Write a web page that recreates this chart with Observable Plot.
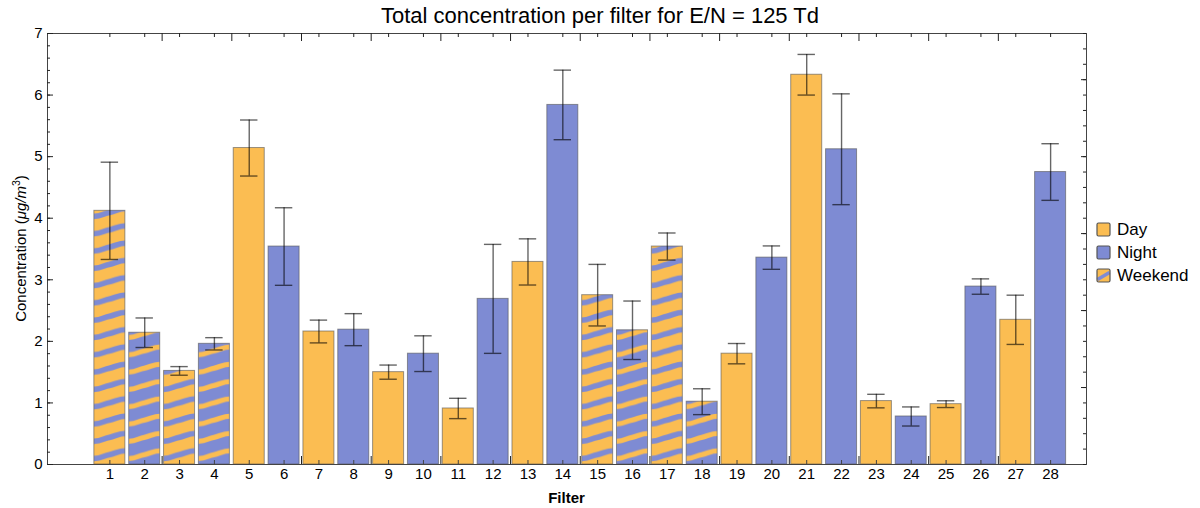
<!DOCTYPE html>
<html><head><meta charset="utf-8">
<script src="https://cdn.jsdelivr.net/npm/d3@7"></script>
<script src="https://cdn.jsdelivr.net/npm/@observablehq/plot@0.6"></script>
<style>
html,body{margin:0;padding:0;background:#fff;}
#chart{width:1200px;height:508px;}
svg{font-family:"Liberation Sans",Arial,sans-serif;}
</style></head><body><div id="chart"></div>
<script>
// ---- data ----
const filters = [1,2,3,4,5,6,7,8,9,10,11,12,13,14,15,16,17,18,19,20,21,22,23,24,25,26,27,28];
const values  = [4.12,2.14,1.52,1.96,5.14,3.54,2.16,2.19,1.50,1.80,0.91,2.69,3.29,5.84,2.75,2.18,3.54,1.02,1.80,3.36,6.33,5.12,1.03,0.78,0.98,2.89,2.35,4.75];
const errors  = [0.79,0.24,0.07,0.10,0.455,0.63,0.185,0.26,0.115,0.29,0.165,0.885,0.375,0.565,0.50,0.475,0.22,0.21,0.165,0.19,0.33,0.90,0.11,0.155,0.055,0.125,0.40,0.46];
// D = day, N = night, WD = weekend (day-coloured base), WN = weekend (night-coloured base)
const kinds   = ["WD","WN","WD","WN","D","N","D","N","D","N","D","N","D","N","WD","WN","WD","WN","D","N","D","N","D","N","D","N","D","N"];
const yTickLabels = [0,1,2,3,4,5,6,7];
const legendLabels = ["Day","Night","Weekend"];
const titleText = "Total concentration per filter for E/N = 125 Td";

// ---- layout / style ----
const W = 1200, H = 508, mL = 47, mR = 114, mT = 33, mB = 44;
const fw = W - mL - mR, fh = H - mT - mB;
const half = 0.445, cap = 0.25;
const ORANGE = "#FBBD52", BLUE = "#7E8BD3";
const FONT = '"Liberation Sans", Arial, sans-serif';

const data = filters.map((f, i) => ({f, v: values[i], e: errors[i], k: kinds[i]}));
const bounds = d3.range(2.5, 27, 2);
const yMinor = d3.range(0, 7.001, 0.2);
const yRight = d3.range(0, 7.001, 0.25);
const yRightMajor = [1.25, 2.5, 3.75, 5, 6.25];

const barOpts = fill => ({
  x1: d => d.f - half, x2: d => d.f + half, y1: d => 0, y2: d => d.v,
  fill, stroke: "#555", strokeOpacity: 0.6, strokeWidth: 1
});
const errStyle = {stroke: "#000", strokeOpacity: 0.6, strokeWidth: 1.4};

const plot = Plot.plot({
  width: W, height: H,
  marginLeft: mL, marginRight: mR, marginTop: mT, marginBottom: mB,
  x: {type: "linear", domain: [-0.79, 29.03], axis: null},
  y: {domain: [0, 7], axis: null},
  style: {fontFamily: FONT, background: "white", color: "#000"},
  marks: [
    Plot.rect(data.filter(d => d.k === "D"), barOpts(ORANGE)),
    Plot.rect(data.filter(d => d.k === "N"), barOpts(BLUE)),
    Plot.rect(data.filter(d => d.k === "WD"), barOpts("url(#wkD)")),
    Plot.rect(data.filter(d => d.k === "WN"), barOpts("url(#wkN)")),
    // error bars
    Plot.ruleX(data, {x: "f", y1: d => d.v - d.e, y2: d => d.v + d.e, ...errStyle}),
    Plot.ruleY(data, {y: d => d.v + d.e, x1: d => d.f - cap, x2: d => d.f + cap, ...errStyle}),
    Plot.ruleY(data, {y: d => d.v - d.e, x1: d => d.f - cap, x2: d => d.f + cap, ...errStyle}),
    // frame
    Plot.frame({stroke: "#444", strokeWidth: 1}),
    // bottom ticks (inward)
    Plot.tickX(filters, {x: d => d, insetTop: fh - 4, stroke: "#444"}),
    Plot.tickX(bounds.filter(b => b !== 4.5), {x: d => d, insetTop: fh - 8, stroke: "#222"}),
    // top ticks
    Plot.tickX(filters, {x: d => d, insetBottom: fh - 4, stroke: "#222"}),
    Plot.tickX(bounds, {x: d => d, insetBottom: fh - 8, stroke: "#222"}),
    // left ticks
    Plot.tickY(yMinor, {y: d => d, insetRight: fw - 3, stroke: "#222"}),
    Plot.tickY(yTickLabels, {y: d => d, insetRight: fw - 6, stroke: "#222"}),
    // right ticks
    Plot.tickY(yRight, {y: d => d, insetLeft: fw - 3, stroke: "#222"}),
    Plot.tickY(yRightMajor, {y: d => d, insetLeft: fw - 5, stroke: "#222"}),
    // tick labels
    Plot.text(filters, {x: d => d, y: d => 0, dy: 10, text: d => String(d), fontSize: 15, fill: "#000", lineAnchor: "middle"}),
    Plot.text(yTickLabels, {y: d => d, frameAnchor: "left", dx: -5, text: d => String(d), textAnchor: "end", fontSize: 15, fill: "#000", lineAnchor: "middle"})
  ]
});
document.getElementById("chart").appendChild(plot);

// ---- patterns for weekend bars ----
const svg = d3.select(plot);
const xs = plot.scale("x");
const step = xs.apply(2) - xs.apply(1);
const x0 = xs.apply(1 - half);
const bw = xs.apply(1 + half) - x0;
const per = 17.3;
const defs = svg.insert("defs", ":first-child");
function pattern(id, bg, fg, sw) {
  const p = defs.append("pattern").attr("id", id)
    .attr("patternUnits", "userSpaceOnUse")
    .attr("x", x0).attr("y", mT + fh).attr("width", step).attr("height", per);
  p.append("rect").attr("width", step).attr("height", per).attr("fill", bg);
  const d = `M-2,12 C${bw * 0.25},12 ${bw * 0.3},9 ${bw * 0.5},8 S${bw * 0.75},4 ${bw + 2},4`;
  for (const dy of [-per, 0, per]) {
    p.append("path").attr("d", d).attr("transform", `translate(0,${dy})`)
      .attr("fill", "none").attr("stroke", fg).attr("stroke-width", sw);
  }
}
pattern("wkD", ORANGE, BLUE, 5.5);
pattern("wkN", BLUE, ORANGE, 5);

// ---- title, axis labels ----
svg.append("text").attr("x", 600).attr("y", 23).attr("text-anchor", "middle")
  .attr("font-size", 22).attr("fill", "#000").text(titleText);
svg.append("text").attr("x", mL + fw / 2).attr("y", 503).attr("text-anchor", "middle")
  .attr("font-size", 15).attr("font-weight", "bold").attr("fill", "#000").text("Filter");
const yl = svg.append("text").attr("transform", `translate(26,${mT + fh / 2}) rotate(-90)`)
  .attr("text-anchor", "middle").attr("font-size", 15).attr("fill", "#000");
yl.append("tspan").text("Concentration (");
yl.append("tspan").attr("font-style", "italic").text("μg/m");
yl.append("tspan").attr("font-size", 10.5).attr("dy", -6).text("3");
yl.append("tspan").attr("dy", 6).text(")");

// ---- legend ----
const leg = svg.append("g").attr("transform", "translate(1097,223)");
legendLabels.forEach((lab, i) => {
  const g = leg.append("g").attr("transform", `translate(0,${i * 23})`);
  g.append("rect").attr("width", 13).attr("height", 13).attr("rx", 1.5)
    .attr("fill", i === 1 ? BLUE : ORANGE);
  if (i === 2) {
    g.append("path").attr("d", "M0.5,10.5 L12.5,3.5").attr("stroke", BLUE).attr("stroke-width", 3.5);
  }
  g.append("rect").attr("width", 13).attr("height", 13).attr("rx", 1.5)
    .attr("fill", "none").attr("stroke", "#555").attr("stroke-width", 1.2);
  g.append("text").attr("x", 20).attr("y", 12).attr("text-anchor", "start")
    .attr("font-size", 17).attr("fill", "#000").text(lab);
});
</script></body></html>
